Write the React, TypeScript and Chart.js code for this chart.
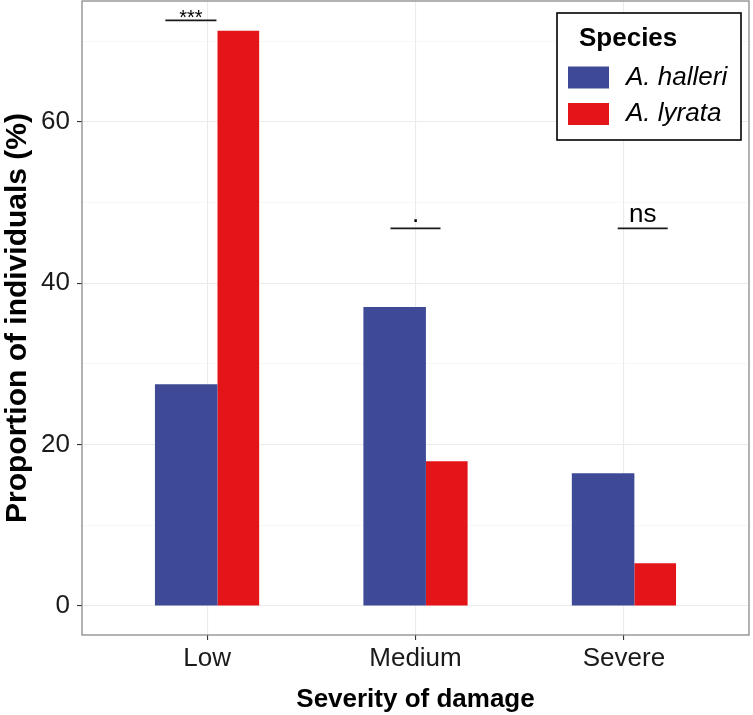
import React, { useEffect, useRef } from 'react';
import { Chart, registerables } from 'chart.js';

Chart.register(...registerables);

// ---- data ----
const CATEGORIES = ['Low', 'Medium', 'Severe'];
const SPECIES = ['A. halleri', 'A. lyrata'];
const HALLERI = [27.5, 37.05, 16.45];
const LYRATA = [71.3, 17.95, 5.3];
const Y_MAJOR = [0, 20, 40, 60];
const Y_MINOR = [10, 30, 50, 70];
const SIG_LABELS = ['***', '.', 'ns'];
const SIG_XMIN = [0.8, 1.88, 2.97];
const SIG_XMAX = [1.045, 2.12, 3.21];
const SIG_Y = [72.6, 46.8, 46.8];
const LEGEND_TITLE = 'Species';
const X_TITLE = 'Severity of damage';
const Y_TITLE = 'Proportion of individuals (%)';

// ---- style ----
const COLORS = ['#3F4A97', '#E41519'];
const FONT = "'Liberation Sans', Arial, Helvetica, sans-serif";
const DODGE = [-0.1, 0.15]; // bar centre offset from category, in category units
const BAR_WIDTH = [0.3, 0.2]; // bar width, in category units
const X_MIN = 0.4;
const X_MAX = 3.6;

export default function App() {
  const ref = useRef<HTMLCanvasElement>(null);

  useEffect(() => {
    const canvas = ref.current;
    if (!canvas) return;

    const panelBorder = {
      id: 'panelBorder',
      afterDatasetsDraw(chart: any) {
        const { ctx, chartArea: a } = chart;
        ctx.save();
        ctx.strokeStyle = '#808080';
        ctx.lineWidth = 1.2;
        ctx.strokeRect(a.left, a.top, a.right - a.left, a.bottom - a.top);
        ctx.restore();
      },
    };

    const sigText = {
      id: 'sigText',
      afterDatasetsDraw(chart: any) {
        const { ctx } = chart;
        const xs = chart.scales.x;
        const ys = chart.scales.y;
        ctx.save();
        ctx.fillStyle = '#000';
        ctx.textAlign = 'center';
        ctx.textBaseline = 'alphabetic';
        SIG_LABELS.forEach((lab, i) => {
          const cx = xs.getPixelForValue((SIG_XMIN[i] + SIG_XMAX[i]) / 2);
          const y = ys.getPixelForValue(SIG_Y[i]);
          if (lab.startsWith('*')) {
            ctx.font = `20px ${FONT}`;
            ctx.fillText(lab, cx, y + 4);
          } else {
            ctx.font = `26px ${FONT}`;
            ctx.fillText(lab, cx, y - 6);
          }
        });
        ctx.restore();
      },
    };

    const speciesLegend = {
      id: 'speciesLegend',
      afterDraw(chart: any) {
        const { ctx, chartArea: a } = chart;
        const bars = chart.data.datasets.filter((d: any) => d.type === 'bar');
        const w = 184;
        const h = 127;
        const x0 = a.right - 8 - w;
        const y0 = a.top + 12;
        ctx.save();
        ctx.fillStyle = '#fff';
        ctx.fillRect(x0, y0, w, h);
        ctx.strokeStyle = '#000';
        ctx.lineWidth = 1.6;
        ctx.strokeRect(x0, y0, w, h);
        ctx.fillStyle = '#000';
        ctx.textAlign = 'left';
        ctx.textBaseline = 'middle';
        ctx.font = `bold 26px ${FONT}`;
        ctx.fillText(LEGEND_TITLE, x0 + 22, y0 + 26);
        bars.forEach((d: any, i: number) => {
          const cy = y0 + 64.5 + i * 36.5;
          ctx.fillStyle = d.backgroundColor;
          ctx.fillRect(x0 + 11, cy - 11, 41, 22);
          ctx.fillStyle = '#000';
          ctx.font = `italic 26px ${FONT}`;
          ctx.fillText(d.label, x0 + 69, cy);
        });
        ctx.restore();
      },
    };

    const catTicks = (scale: any) => {
      scale.ticks = CATEGORIES.map((_, i) => ({ value: i + 1 }));
    };

    const barAxis = (k: number) => ({
      type: 'linear',
      display: false,
      offset: false,
      grid: { offset: false },
      min: X_MIN - DODGE[k],
      max: X_MAX - DODGE[k],
      afterBuildTicks: catTicks,
    });

    const barSet = (k: number, vals: number[]) => ({
      type: 'bar',
      label: SPECIES[k],
      data: vals.map((v, i) => ({ x: i + 1, y: v })),
      xAxisID: 'xb' + k,
      yAxisID: 'y',
      backgroundColor: COLORS[k],
      borderWidth: 0,
      grouped: false,
      categoryPercentage: 1,
      barPercentage: BAR_WIDTH[k],
    });

    const chart = new Chart(canvas, {
      type: 'bar',
      data: {
        datasets: [
          barSet(0, HALLERI) as any,
          barSet(1, LYRATA) as any,
          ...SIG_LABELS.map((lab, i) => ({
            type: 'line',
            label: lab,
            xAxisID: 'x',
            yAxisID: 'y',
            data: [
              { x: SIG_XMIN[i], y: SIG_Y[i] },
              { x: SIG_XMAX[i], y: SIG_Y[i] },
            ],
            borderColor: '#1a1a1a',
            borderWidth: 1.8,
            pointRadius: 0,
            fill: false,
          })) as any,
        ],
      },
      options: {
        animation: false,
        responsive: false,
        layout: { padding: { top: 1, right: 4, left: 0, bottom: 0 } },
        plugins: {
          legend: { display: false },
          tooltip: { enabled: false },
        },
        scales: {
          xb0: barAxis(0),
          xb1: barAxis(1),
          x: {
            type: 'linear',
            position: 'bottom',
            offset: false,
            min: X_MIN,
            max: X_MAX,
            afterBuildTicks: catTicks,
            afterFit: (scale: any) => {
              scale.height = 80;
              scale.paddingLeft = 0;
              scale.paddingRight = 0;
            },
            ticks: {
              autoSkip: false,
              maxRotation: 0,
              padding: 3,
              color: '#1a1a1a',
              font: { family: FONT, size: 26 },
              callback: (v: any) => CATEGORIES[Math.round(Number(v)) - 1] ?? '',
            },
            grid: {
              offset: false,
              color: '#ebebeb',
              lineWidth: 1.1,
              tickColor: '#333',
              tickLength: 5,
              tickWidth: 1.1,
            },
            border: { display: false },
            title: {
              display: true,
              text: X_TITLE,
              color: '#000',
              font: { family: FONT, size: 26, weight: 'bold' },
              padding: { top: 0, bottom: 0 },
            },
          },
          y: {
            type: 'linear',
            min: -3.6,
            max: 75,
            afterBuildTicks: (scale: any) => {
              scale.ticks = [...Y_MAJOR, ...Y_MINOR]
                .sort((a, b) => a - b)
                .map((v) => ({ value: v }));
            },
            afterFit: (scale: any) => {
              scale.width = 82;
              scale.paddingTop = 0;
              scale.paddingBottom = 0;
            },
            ticks: {
              padding: 7,
              color: '#1a1a1a',
              font: { family: FONT, size: 26 },
              callback: (v: any) => (Y_MAJOR.includes(Number(v)) ? String(v) : ''),
            },
            grid: {
              color: (c: any) => (Y_MAJOR.includes(c.tick?.value) ? '#ebebeb' : '#f3f3f3'),
              lineWidth: (c: any) => (Y_MAJOR.includes(c.tick?.value) ? 1.1 : 0.7),
              tickColor: (c: any) => (Y_MAJOR.includes(c.tick?.value) ? '#333' : 'rgba(0,0,0,0)'),
              tickLength: 5,
              tickWidth: 1.1,
            },
            border: { display: false },
            title: {
              display: true,
              text: Y_TITLE,
              color: '#000',
              font: { family: FONT, size: 30, weight: 'bold' },
              padding: { top: 0, bottom: 0 },
            },
          },
        },
      },
      plugins: [panelBorder, sigText, speciesLegend],
    } as any);

    return () => chart.destroy();
  }, []);

  return (
    <div style={{ position: 'fixed', left: 0, top: 0, width: 753, height: 715, background: '#fff' }}>
      <canvas ref={ref} width={753} height={715} style={{ display: 'block', width: 753, height: 715 }} />
    </div>
  );
}
